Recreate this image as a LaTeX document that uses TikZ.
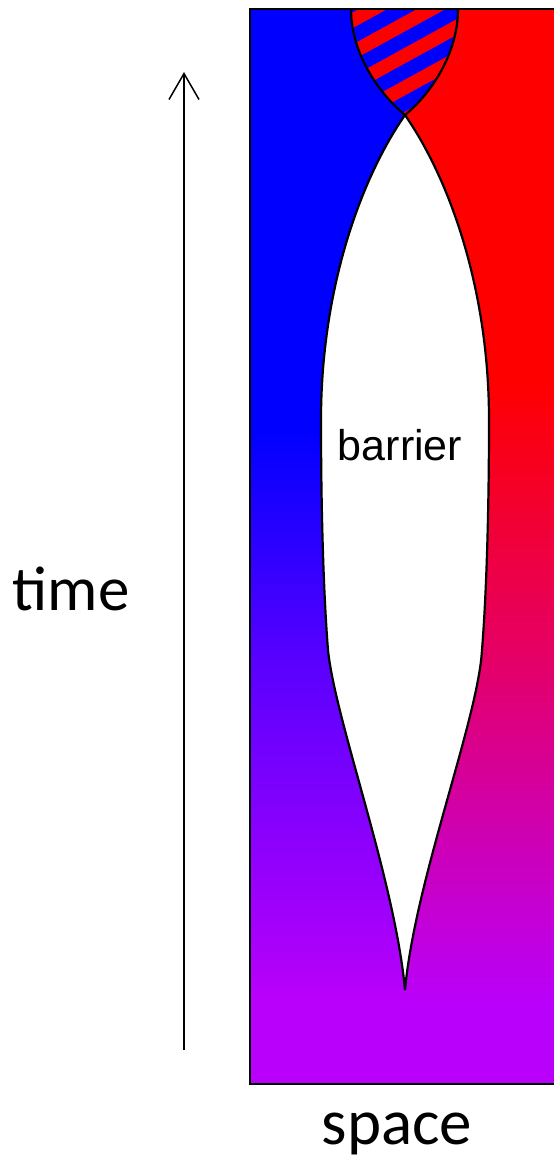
\documentclass[tikz,border=0pt]{standalone}
\usepackage{xcolor}
\usepackage{fontspec}
\usepackage{tikz}
\usetikzlibrary{arrows.meta}
\newfontfamily\calfont{Carlito}
\newfontfamily\arialfont{Liberation Sans}
\definecolor{leftblue}{HTML}{0000FF}
\definecolor{rightred}{HTML}{FF0000}
\definecolor{midviolet}{HTML}{5A00FF}
\definecolor{midmagenta}{HTML}{E40069}
\definecolor{endpurple}{HTML}{B900FA}

\begin{document}
\begin{tikzpicture}[x=1pt, y=-1pt,
    outline/.style={black, line width=2.2pt},
    axislabel/.style={font=\calfont\fontsize{63}{63}\selectfont, anchor=base},
    regionlabel/.style={font=\arialfont\fontsize{43}{43}\selectfont, anchor=base}]
            \useasboundingbox (0,0) rectangle (554,1162);
            % left half: blue turning violet
            \fill[leftblue] (250,9) rectangle (406,432);
            \shade[top color=leftblue, bottom color=midviolet] (250,430) rectangle (406,665);
            \shade[top color=midviolet, bottom color=endpurple] (250,663) rectangle (406,1002);
            % right half: red turning purple
            \fill[rightred] (404,9) rectangle (554,382);
            \shade[top color=rightred, bottom color=midmagenta] (404,380) rectangle (554,665);
            \shade[top color=midmagenta, bottom color=endpurple] (404,663) rectangle (554,1002);
            \fill[endpurple] (250,1000) rectangle (554,1084);
            % striped overlap at the top
            \begin{scope}
                \clip (351,9) .. controls (351,50) and (375,90) .. (405,115)
                    .. controls (435,90) and (458,50) .. (458,9) -- cycle;
                \fill[rightred] (340,0) rectangle (470,120);
                \foreach \k in {-3,...,3}
                    \draw[leftblue, line width=14pt] (330,{77+32*\k+0.55*65}) -- (480,{77+32*\k-0.55*85});
            \end{scope}
            \draw[outline] (351,9) .. controls (351,50) and (375,90) .. (405,115)
                .. controls (435,90) and (458,50) .. (458,9);
            % barrier
            \draw[outline, fill=white] (405,115) .. controls (360,180) and (321,290) .. (321,420)
                .. controls (321,520) and (324,600) .. (328,650)
                .. controls (335,720) and (395,880) .. (405,990)
                .. controls (415,880) and (478,720) .. (482,650)
                .. controls (486,600) and (489,520) .. (489,420)
                .. controls (489,290) and (450,180) .. (405,115) -- cycle;
            \draw[outline] (554,9) -- (250,9) -- (250,1084) -- (554,1084);
            \node[regionlabel] (barrier) at (400,460) {barrier};
            % axes
            \coordinate (tstart) at (184,1050);
            \coordinate (tend) at (184,72);
            \draw[line width=1.5pt, -{Straight Barb[length=26pt, width=30pt]}] (tstart) -- (tend);
            \node[axislabel] (time) at (71,610) {time};
            \node[axislabel, font=\calfont\fontsize{65}{65}\selectfont] (space) at (397,1144) {space};
        \end{tikzpicture}
\end{document}
